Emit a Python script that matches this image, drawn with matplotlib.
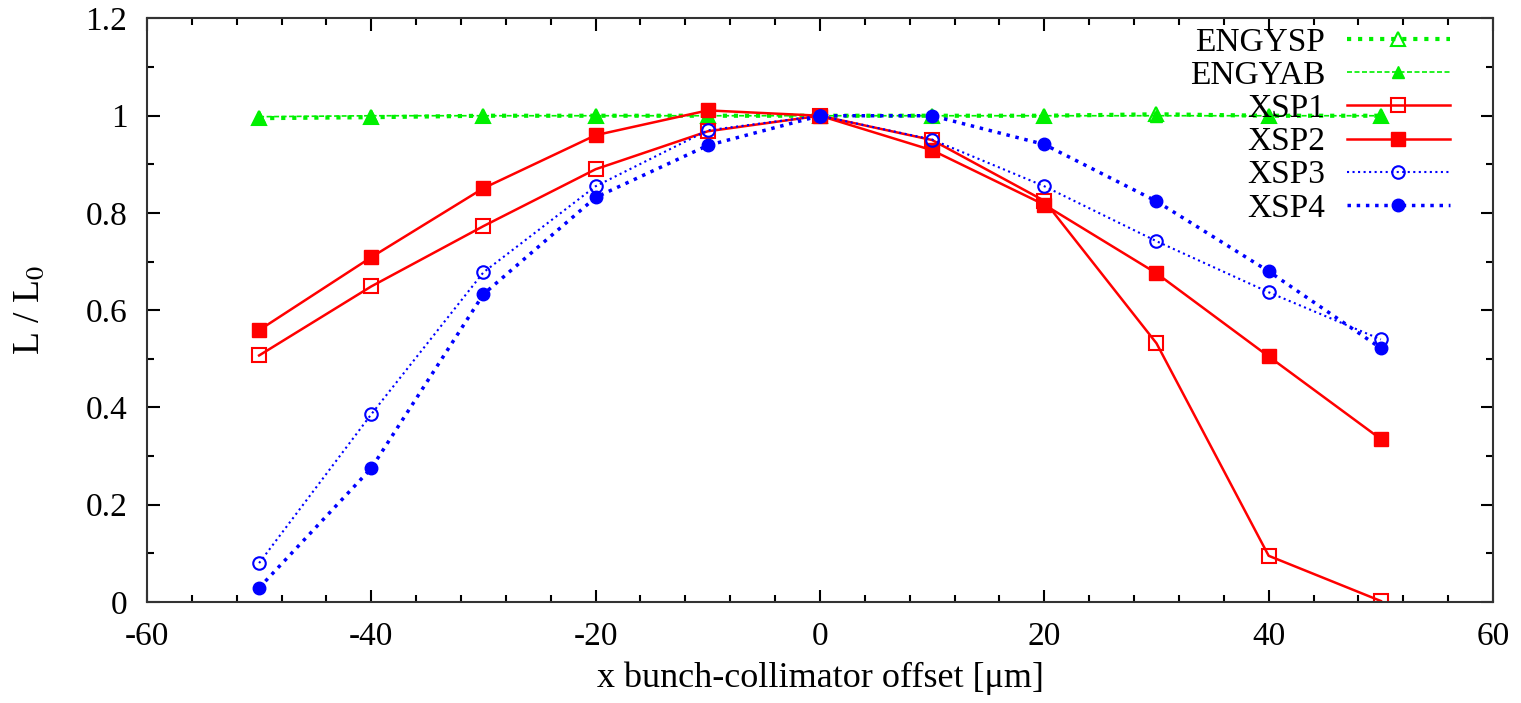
import matplotlib
matplotlib.use("Agg")
import matplotlib.pyplot as plt
from matplotlib.ticker import MultipleLocator

offset = [-50, -40, -30, -20, -10, 0, 10, 20, 30, 40, 50]
engysp = [0.995, 0.997, 1.0, 1.0, 1.0, 1.0, 1.0, 1.0, 1.003, 1.0, 1.0]
engyab = [0.998, 1.0, 1.0, 1.0, 1.0, 1.0, 1.0, 1.0, 1.0, 1.0, 1.0]
xsp1 = [0.507, 0.649, 0.773, 0.890, 0.968, 1.0, 0.950, 0.825, 0.532, 0.095, 0.002]
xsp2 = [0.559, 0.709, 0.851, 0.960, 1.011, 1.0, 0.929, 0.817, 0.676, 0.505, 0.335]
xsp3 = [0.080, 0.386, 0.678, 0.855, 0.970, 1.0, 0.951, 0.855, 0.742, 0.637, 0.540]
xsp4 = [0.029, 0.275, 0.633, 0.832, 0.939, 1.0, 1.0, 0.941, 0.824, 0.680, 0.522]
yticks = [0, 0.2, 0.4, 0.6, 0.8, 1.0, 1.2]
yticklabels = ['0', '0.2', '0.4', '0.6', '0.8', '1', '1.2']

plt.rcParams['font.family'] = ['Liberation Serif', 'DejaVu Serif']
plt.rcParams['mathtext.fontset'] = 'stix'
plt.rcParams['axes.unicode_minus'] = False

fig = plt.figure(figsize=(15.21, 7.03), dpi=100)
ax = fig.add_axes([0.0966, 0.1437, 0.885, 0.830])

green = '#00f000'
red = '#ff0000'
blue = '#0000ff'

ax.plot(offset, engysp, color=green, ls=':', lw=3, marker='^', ms=10,
        mfc='none', mec=green, mew=1.5, label='ENGYSP')
ax.plot(offset, engyab, color=green, ls=(0, (3, 1.5)), lw=1.2, marker='^', ms=9,
        mfc=green, mec=green, label='ENGYAB')
ax.plot(offset, xsp1, color=red, ls='-', lw=1.8, marker='s', ms=10,
        mfc='none', mec=red, mew=1.5, label='XSP1')
ax.plot(offset, xsp2, color=red, ls='-', lw=1.8, marker='s', ms=10,
        mfc=red, mec=red, label='XSP2')
ax.plot(offset, xsp3, color=blue, ls=':', lw=1.5, marker='o', ms=9,
        mfc='none', mec=blue, mew=1.5, label='XSP3')
ax.plot(offset, xsp4, color=blue, ls=':', lw=2.5, marker='o', ms=9,
        mfc=blue, mec=blue, label='XSP4')

ax.set_xlim(-60, 60)
ax.set_ylim(0, 1.2)
ax.xaxis.set_major_locator(MultipleLocator(20))
ax.xaxis.set_minor_locator(MultipleLocator(4))
ax.yaxis.set_minor_locator(MultipleLocator(0.1))
ax.set_yticks(yticks)
ax.set_yticklabels(yticklabels)
ax.tick_params(which='both', direction='in', top=True, right=True,
               labelsize=24, width=1.5, pad=14)
ax.tick_params(which='major', length=9)
ax.tick_params(which='minor', length=5)
for s in ax.spines.values():
    s.set_linewidth(1.5)
    s.set_color('#333333')

ax.set_xlabel('x bunch-collimator offset [\u03bcm]', fontsize=26, labelpad=7)
ax.set_ylabel('L / L$_0$', fontsize=27, labelpad=28)

leg = ax.legend(loc='upper right', bbox_to_anchor=(0.968, 0.985),
                markerfirst=False, frameon=False,
                fontsize=24, handlelength=3.1, labelspacing=0.08,
                borderaxespad=0, borderpad=0, handletextpad=0.65)

fig.savefig('out.png', dpi=100)
